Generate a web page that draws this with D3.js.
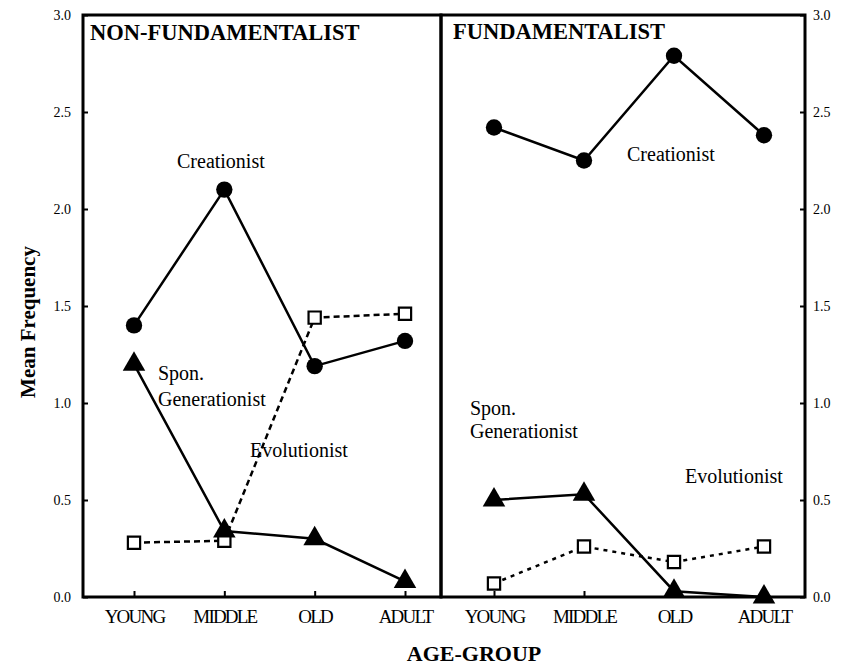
<!DOCTYPE html>
<html><head><meta charset="utf-8">
<script src="https://cdn.jsdelivr.net/npm/d3@7"></script>
<style>
body{margin:0;background:#fff;}
text{font-family:"Liberation Serif","Times New Roman",serif;fill:#000;}
</style></head>
<body><svg id="c" width="841" height="665"></svg>
<script>
const groups = ["YOUNG","MIDDLE","OLD","ADULT"];
const yTicks = [0,0.5,1.0,1.5,2.0,2.5,3.0];
// Non-fundamentalist
const nfCreationist = [1.40, 2.10, 1.19, 1.32];
const nfSponGen     = [1.20, 0.34, 0.30, 0.08];
const nfEvolution   = [0.28, 0.29, 1.44, 1.46];
// Fundamentalist
const fCreationist  = [2.42, 2.25, 2.79, 2.38];
const fSponGen      = [0.50, 0.53, 0.03, 0.00];
const fEvolution    = [0.07, 0.26, 0.18, 0.26];

const svg = d3.select("#c");
const topY = 15, bottomY = 597, leftX = 83, midX = 441, rightX = 805;
const y = d3.scaleLinear().domain([0,3]).range([bottomY, topY]);
const xL = d3.scalePoint().domain(groups).range([134, 405]);
const xR = d3.scalePoint().domain(groups).range([494, 764]);

// frames
svg.append("rect").attr("x",leftX).attr("y",topY).attr("width",midX-leftX).attr("height",bottomY-topY)
  .attr("fill","none").attr("stroke","#000").attr("stroke-width",3);
svg.append("rect").attr("x",midX).attr("y",topY).attr("width",rightX-midX).attr("height",bottomY-topY)
  .attr("fill","none").attr("stroke","#000").attr("stroke-width",3);

const fmt = d3.format(".1f");
const ga = svg.append("g").attr("transform",`translate(${leftX},0)`)
  .call(d3.axisLeft(y).tickValues(yTicks).tickFormat(fmt).tickSizeInner(-5).tickSizeOuter(0).tickPadding(12));
const gb = svg.append("g").attr("transform",`translate(${rightX},0)`)
  .call(d3.axisRight(y).tickValues(yTicks).tickFormat(fmt).tickSizeInner(-5).tickSizeOuter(0).tickPadding(8));
const gx1 = svg.append("g").attr("transform",`translate(0,${bottomY})`)
  .call(d3.axisBottom(xL).tickSizeInner(-6).tickSizeOuter(0).tickPadding(13));
const gx2 = svg.append("g").attr("transform",`translate(0,${bottomY})`)
  .call(d3.axisBottom(xR).tickSizeInner(-6).tickSizeOuter(0).tickPadding(13));
[ga,gb,gx1,gx2].forEach(g=>{
  g.select(".domain").remove();
  g.selectAll(".tick line").attr("stroke","#000").attr("stroke-width",2);
});
[ga,gb].forEach(g=>g.selectAll("text").attr("font-size",14).attr("font-family","Liberation Serif").attr("dy","0.32em"));
[gx1,gx2].forEach(g=>g.selectAll("text").attr("font-size",19).attr("font-family","Liberation Serif").attr("letter-spacing","-1.8px"));

function series(x, vals, opts){
  const pts = groups.map((g,i)=>[x(g), y(vals[i])]);
  svg.append("path").attr("d", d3.line()(pts)).attr("fill","none").attr("stroke","#000")
    .attr("stroke-width",2.5).attr("stroke-dasharray", opts.dash || null);
  const sym = d3.symbol().type(opts.type).size(opts.size);
  svg.append("g").selectAll("path").data(pts).join("path")
    .attr("transform",d=>`translate(${d[0]},${d[1]})`)
    .attr("d", sym())
    .attr("fill", opts.fill).attr("stroke","#000").attr("stroke-width", opts.sw || 0);
}
series(xL, nfCreationist, {type:d3.symbolCircle, size:210, fill:"#000"});
series(xL, nfEvolution, {type:d3.symbolSquare, size:150, fill:"#fff", sw:2.2, dash:"6,4"});
series(xL, nfSponGen, {type:d3.symbolTriangle, size:220, fill:"#000"});
series(xR, fCreationist, {type:d3.symbolCircle, size:210, fill:"#000"});
series(xR, fEvolution, {type:d3.symbolSquare, size:150, fill:"#fff", sw:2.2, dash:"4,5"});
series(xR, fSponGen, {type:d3.symbolTriangle, size:220, fill:"#000"});

function label(t, x, yy, size, bold){
  svg.append("text").attr("x",x).attr("y",yy).attr("font-size",size)
    .attr("font-weight",bold?"bold":"normal").text(t);
}
label("NON-FUNDAMENTALIST", 90, 40, 22.5, true);
label("FUNDAMENTALIST", 453, 39, 22.5, true);
label("Creationist", 177, 168, 20);
label("Spon.", 158, 380, 20);
label("Generationist", 158, 406, 20);
label("Evolutionist", 250, 457, 20);
label("Creationist", 627, 161, 20);
label("Spon.", 470, 415, 20);
label("Generationist", 470, 438, 20);
label("Evolutionist", 685, 483, 20);

svg.append("text").attr("transform","translate(35,322) rotate(-90)").attr("text-anchor","middle")
  .attr("font-size",21).attr("font-weight","bold").text("Mean Frequency");
svg.append("text").attr("x",474).attr("y",661).attr("text-anchor","middle")
  .attr("font-size",22).attr("font-weight","bold").text("AGE-GROUP");
</script></body></html>
